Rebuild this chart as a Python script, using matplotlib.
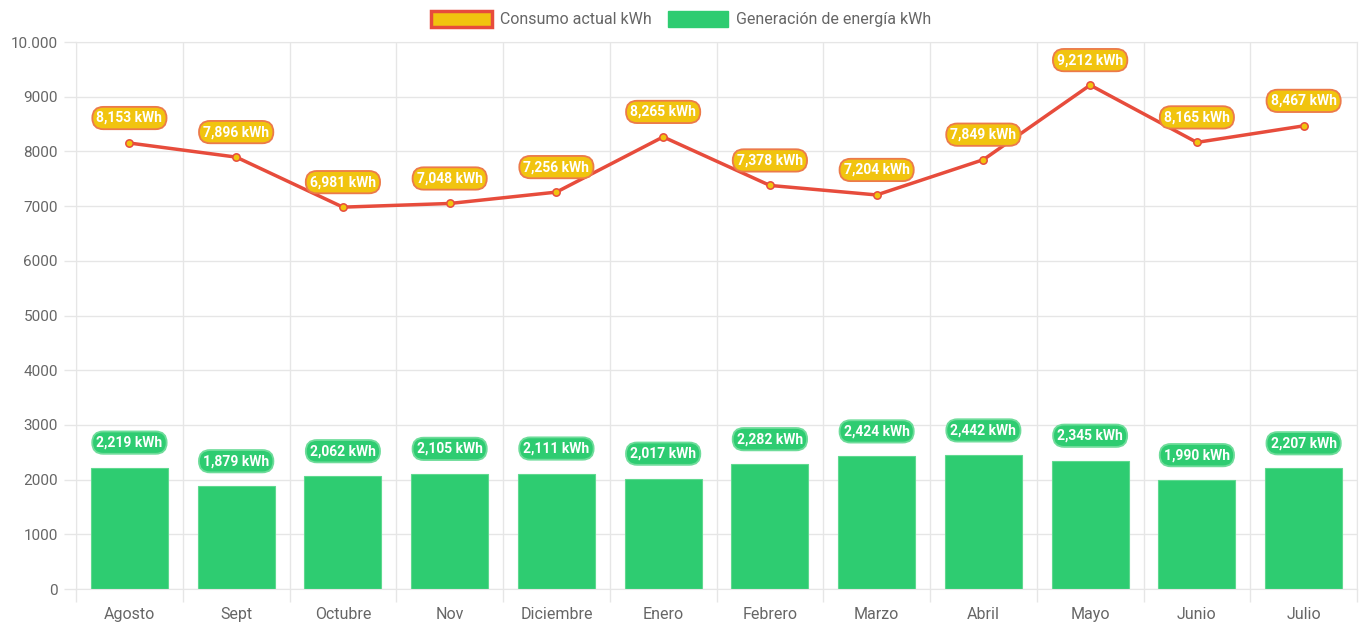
import matplotlib
matplotlib.use("Agg")
import matplotlib.pyplot as plt
from matplotlib.patches import Patch

months = ["Agosto", "Sept", "Octubre", "Nov", "Diciembre", "Enero",
          "Febrero", "Marzo", "Abril", "Mayo", "Junio", "Julio"]
consumo = [8153, 7896, 6981, 7048, 7256, 8265, 7378, 7204, 7849, 9212, 8165, 8467]
generacion = [2219, 1879, 2062, 2105, 2111, 2017, 2282, 2424, 2442, 2345, 1990, 2207]
y_ticks = [0, 1000, 2000, 3000, 4000, 5000, 6000, 7000, 8000, 9000, 10000]
y_tick_labels = ["0", "1000", "2000", "3000", "4000", "5000",
                 "6000", "7000", "8000", "9000", "10.000"]

RED = "#e74c3c"
YELLOW = "#f1c40f"
GREEN = "#2ecc71"
GRID = "#e6e6e6"
TXT = "#666666"

plt.rcParams['font.family'] = ['Roboto', 'DejaVu Sans']

fig = plt.figure(figsize=(13.63, 6.27), dpi=100)
ax = fig.add_axes([0.0558, 0.0606, 0.9398, 0.8724])

x = list(range(len(months)))
ax.bar(x, generacion, width=0.72, color=GREEN, edgecolor="#5fd98f",
       linewidth=0.8, zorder=2)
ax.plot(x, consumo, color=RED, linewidth=2.5, zorder=3)
ax.scatter(x, consumo, s=28, color=YELLOW, edgecolor=RED, linewidth=1.1, zorder=4)

def fmt(v):
    return f"{v:,} kWh"

for i, v in enumerate(consumo):
    ax.annotate(fmt(v), (i, v), xytext=(0, 18), textcoords="offset points",
                ha="center", va="center", color="white", fontsize=10,
                fontweight="bold", zorder=6,
                bbox=dict(boxstyle="round,pad=0.3,rounding_size=0.8",
                          fc=YELLOW, ec="#ec7a4a", lw=1.3))
for i, v in enumerate(generacion):
    ax.annotate(fmt(v), (i, v), xytext=(0, 18), textcoords="offset points",
                ha="center", va="center", color="white", fontsize=10,
                fontweight="bold", zorder=6,
                bbox=dict(boxstyle="round,pad=0.3,rounding_size=0.8",
                          fc=GREEN, ec="#6edc9a", lw=1.3))

ax.set_xlim(-0.5, len(months) - 0.5)
ax.set_ylim(0, 10000)
ax.set_yticks(y_ticks)
ax.set_yticklabels(y_tick_labels)
ax.set_xticks(x)
ax.set_xticklabels(months)
ax.set_xticks([i - 0.5 for i in range(len(months) + 1)], minor=True)

ax.tick_params(axis="x", which="major", length=0, pad=13, labelsize=11.5, labelcolor=TXT)
ax.tick_params(axis="x", which="minor", length=9, color=GRID, width=1)
ax.tick_params(axis="y", length=9, color=GRID, width=1, pad=4, labelsize=11, labelcolor=TXT)

ax.grid(axis="y", which="major", color=GRID, linewidth=1, zorder=0)
ax.grid(axis="x", which="minor", color=GRID, linewidth=1, zorder=0)
ax.set_axisbelow(True)
for s in ["left", "bottom", "right", "top"]:
    ax.spines[s].set_color(GRID)

handles = [Patch(facecolor=YELLOW, edgecolor=RED, linewidth=2.5),
           Patch(facecolor=GREEN, edgecolor=GREEN)]
fig.legend(handles, ["Consumo actual kWh", "Generación de energía kWh"],
           loc="center", bbox_to_anchor=(0.5, 0.97), ncol=2, frameon=False,
           fontsize=11.5, labelcolor=TXT, handlelength=3.8, handleheight=1.2,
           columnspacing=1.0, handletextpad=0.5)

fig.savefig("out.png", dpi=100)
